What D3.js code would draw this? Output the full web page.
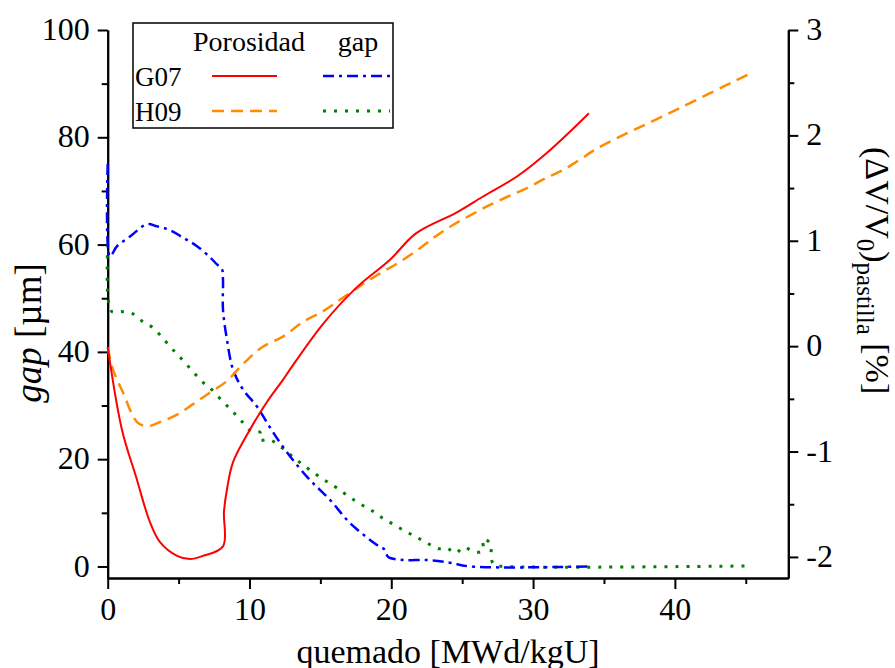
<!DOCTYPE html>
<html>
<head>
<meta charset="utf-8">
<script src="https://cdn.jsdelivr.net/npm/d3@7"></script>
<style>
  body { margin: 0; background: #fff; }
  svg text { font-family: 'Liberation Serif', 'Times New Roman', serif; fill: #000; }
</style>
</head>
<body>
<div id="chart"></div>
<script>
// porosidad G07 (right axis, %)
const porG07Burnup = [0, 1.0, 2.0, 2.98, 3.69, 4.89, 5.8, 6.72, 8.13, 8.2, 8.41, 8.84, 10.04, 11.23, 12.36, 12.86, 15.18, 17.58, 19.91, 21.74, 24.63, 26.47, 28.86, 31.19, 33.94]
const porG07 = [-0.01, -0.79, -1.24, -1.67, -1.86, -1.99, -2.02, -1.99, -1.9, -1.57, -1.36, -1.1, -0.79, -0.53, -0.32, -0.22, 0.21, 0.56, 0.82, 1.07, 1.27, 1.42, 1.61, 1.86, 2.21]

// porosidad H09 (right axis, %)
const porH09Burnup = [0, 0.37, 1.08, 2.07, 2.77, 3.69, 4.89, 6.02, 7.22, 8.41, 9.54, 10.88, 12.36, 13.77, 15.18, 16.38, 17.79, 19.2, 20.61, 22.02, 23.22, 24.35, 25.69, 26.96, 28.23, 29.57, 30.98, 32.1, 33.3, 34.57, 40.36, 45.5]
const porH09 = [-0.01, -0.22, -0.44, -0.72, -0.76, -0.72, -0.65, -0.55, -0.44, -0.33, -0.17, -0.01, 0.09, 0.23, 0.33, 0.44, 0.57, 0.69, 0.8, 0.93, 1.05, 1.15, 1.25, 1.34, 1.42, 1.5, 1.6, 1.67, 1.77, 1.88, 2.26, 2.6]

// gap G07 (left axis, um)
const gapG07Burnup = [0, 0.16, 0.66, 1.57, 2.77, 3.48, 4.39, 5.31, 6.3, 7.22, 7.71, 8.06, 8.13, 8.13, 8.41, 8.84, 9.54, 10.53, 11.45, 12.36, 14.06, 15.68, 17.09, 18.99, 19.55, 19.77, 20.82, 22.52, 24.14, 25.55, 34.0]
const gapG07 = [75, 57.8, 59.7, 61.5, 63.8, 63.4, 62.7, 61.3, 59.7, 57.6, 56.3, 55.4, 53.5, 47.9, 42.3, 36.7, 33.0, 29.8, 25.9, 22.3, 16.7, 12.4, 8.1, 4.0, 3.1, 1.8, 1.2, 1.2, 0.7, 0, 0]

// gap H09 (left axis, um)
const gapH09Burnup = [0, 0.02, 0.3, 1.01, 1.78, 2.49, 3.19, 3.9, 4.6, 5.31, 6.02, 6.72, 7.21, 7.99, 8.77, 9.47, 10.18, 10.74, 10.74, 11.45, 12.29, 13.07, 13.85, 14.62, 15.47, 16.24, 17.02, 17.79, 18.64, 19.34, 20.12, 20.97, 21.74, 22.52, 23.29, 23.86, 24.56, 24.92, 25.13, 25.91, 26.47, 26.47, 27.03, 27.03, 27.25, 28.1, 45.2]
const gapH09 = [60, 50.1, 47.5, 47.5, 47.1, 45.6, 44.5, 42.5, 40.4, 38.4, 36.3, 34.3, 33.3, 31.1, 29.0, 27.0, 25.1, 25.0, 23.6, 23.6, 22.1, 20.4, 18.8, 17.3, 15.8, 14.5, 13.0, 11.7, 10.4, 9.1, 7.9, 6.6, 5.5, 4.4, 3.3, 3.5, 2.5, 3.3, 3.6, 2.7, 2.9, 5.1, 4.2, 2.0, 0.3, 0, 0.1]

// ticks
const xMajor = [0, 10, 20, 30, 40]
const xMinor = [5, 15, 25, 35, 45]
const yLeftMajor = [0, 20, 40, 60, 80, 100]
const yLeftMinor = [10, 30, 50, 70, 90]
const yRightMajor = [-2, -1, 0, 1, 2, 3]
const yRightMinor = [-1.5, -0.5, 0.5, 1.5, 2.5]

let width = 895,
  height = 668

let m = { left: 107.7, right: 788.3, top: 30, bottom: 578 }
const serif = "'Liberation Serif', 'Times New Roman', serif"

let svg = d3.select('#chart')
  .append('svg')
  .attr('width', width)
  .attr('height', height)
  .attr('font-family', serif)

let x = d3.scaleLinear().domain([0, 48]).range([m.left, m.right])
let yL = d3.scaleLinear().domain([-2.15, 100]).range([m.bottom, m.top])
let yR = d3.scaleLinear().domain([-2.2, 3]).range([m.bottom, m.top])

const tickFont = 32
const fmt = d => String(d)  // plain hyphen minus like the original

function styleAxis(g) {
  g.attr('font-family', serif)
  g.selectAll('path, line').attr('stroke', '#000').attr('stroke-width', 2)
  g.selectAll('text').attr('font-size', tickFont).attr('fill', '#000')
}

// bottom axis
svg.append('g')
  .attr('transform', `translate(0,${m.bottom})`)
  .call(d3.axisBottom(x).tickValues(xMinor).tickSize(6).tickSizeOuter(0).tickFormat(''))
  .call(styleAxis)
svg.append('g')
  .attr('transform', `translate(0,${m.bottom})`)
  .call(d3.axisBottom(x).tickValues(xMajor).tickSize(11).tickSizeOuter(0).tickFormat(fmt))
  .call(styleAxis)
  .selectAll('text').attr('y', 42).attr('dy', null)

// left axis
svg.append('g')
  .attr('transform', `translate(${m.left},0)`)
  .call(d3.axisLeft(yL).tickValues(yLeftMinor).tickSize(6).tickSizeOuter(0).tickFormat(''))
  .call(styleAxis)
svg.append('g')
  .attr('transform', `translate(${m.left},0)`)
  .call(d3.axisLeft(yL).tickValues(yLeftMajor).tickSize(10).tickSizeOuter(0).tickPadding(8).tickFormat(fmt))
  .call(styleAxis)
  .selectAll('text').attr('dy', '0.3em')

// right axis
svg.append('g')
  .attr('transform', `translate(${m.right},0)`)
  .call(d3.axisRight(yR).tickValues(yRightMinor).tickSize(6).tickSizeOuter(0).tickFormat(''))
  .call(styleAxis)
svg.append('g')
  .attr('transform', `translate(${m.right},0)`)
  .call(d3.axisRight(yR).tickValues(yRightMajor).tickSize(10).tickSizeOuter(0).tickPadding(8).tickFormat(fmt))
  .call(styleAxis)
  .selectAll('text').attr('dy', '0.3em')

// series
let curve = d3.curveCatmullRom.alpha(0.5)
let lineL = d3.line().curve(curve).x(d => x(d[0])).y(d => yL(d[1]))
let lineR = d3.line().curve(curve).x(d => x(d[0])).y(d => yR(d[1]))

let series = [
  { data: d3.zip(gapH09Burnup, gapH09), line: lineL, color: '#008000', dash: '3,8', w: 3 },
  { data: d3.zip(gapG07Burnup, gapG07), line: lineL, color: '#0000ff', dash: '11,5,3,5', w: 2.5 },
  { data: d3.zip(porH09Burnup, porH09), line: lineR, color: '#ff8c00', dash: '12,7', w: 2.5 },
  { data: d3.zip(porG07Burnup, porG07), line: lineR, color: '#ff0000', dash: null, w: 2 }
]

series.forEach(s => {
  svg.append('path')
    .attr('d', s.line(s.data))
    .attr('fill', 'none')
    .attr('stroke', s.color)
    .attr('stroke-width', s.w)
    .attr('stroke-dasharray', s.dash)
})

// axis titles
svg.append('text')
  .attr('x', (m.left + m.right) / 2)
  .attr('y', 663)
  .attr('text-anchor', 'middle')
  .attr('font-size', 34)
  .text('quemado [MWd/kgU]')

let yTitle = svg.append('text')
  .attr('transform', 'translate(41,333) rotate(-90)')
  .attr('text-anchor', 'middle')
  .attr('font-size', 37)
yTitle.append('tspan').attr('font-style', 'italic').text('gap')
yTitle.append('tspan').text(' [µm]')

let rTitle = svg.append('text')
  .attr('transform', 'translate(866,147) rotate(90)')
  .attr('font-size', 34)
rTitle.append('tspan').text('(ΔV/V')
rTitle.append('tspan').attr('font-size', 25).attr('dy', 9).text('0')
rTitle.append('tspan').attr('dy', -9).text(')')
rTitle.append('tspan').attr('font-size', 25).attr('dy', 9).text('pastilla')
rTitle.append('tspan').attr('dy', -9).text(' [%]')

// legend
let legend = svg.append('g')
legend.append('rect')
  .attr('x', 133).attr('y', 23).attr('width', 260).attr('height', 105)
  .attr('fill', '#fff').attr('stroke', '#000').attr('stroke-width', 1.5)

legend.append('text').attr('x', 193).attr('y', 51).attr('font-size', 28).text('Porosidad')
legend.append('text').attr('x', 358).attr('y', 51).attr('text-anchor', 'middle').attr('font-size', 28).text('gap')
legend.append('text').attr('x', 135).attr('y', 86).attr('font-size', 27).text('G07')
legend.append('text').attr('x', 135).attr('y', 121).attr('font-size', 27).text('H09')

let legendRows = [
  { x1: 212, x2: 277, y: 76, s: series[3] },
  { x1: 323, x2: 390, y: 76, s: series[1] },
  { x1: 212, x2: 277, y: 111, s: series[2] },
  { x1: 323, x2: 390, y: 111, s: series[0] }
]
legendRows.forEach(r => {
  legend.append('line')
    .attr('x1', r.x1).attr('x2', r.x2).attr('y1', r.y).attr('y2', r.y)
    .attr('stroke', r.s.color)
    .attr('stroke-width', r.s.w)
    .attr('stroke-dasharray', r.s.dash)
})
</script>
</body>
</html>
